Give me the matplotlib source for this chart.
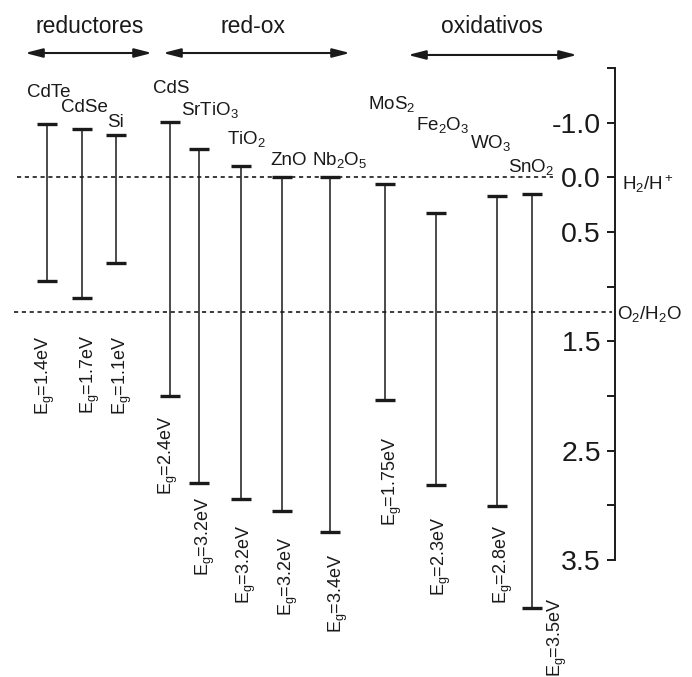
import matplotlib
matplotlib.use('Agg')
import matplotlib.pyplot as plt

plt.rcParams['font.family'] = ['Liberation Sans', 'DejaVu Sans']
plt.rcParams['mathtext.default'] = 'regular'

# --- band edges (eV vs NHE) ---
materials = ['CdTe', 'CdSe', 'Si', 'CdS', 'SrTiO$_3$', 'TiO$_2$', 'ZnO', 'Nb$_2$O$_5$',
             'MoS$_2$', 'Fe$_2$O$_3$', 'WO$_3$', 'SnO$_2$']
cb_edge = [-0.49, -0.44, -0.39, -0.51, -0.26, -0.10, 0.00, 0.00, 0.06, 0.33, 0.17, 0.15]
vb_edge = [0.95, 1.10, 0.78, 2.00, 2.80, 2.94, 3.05, 3.24, 2.04, 2.81, 3.01, 3.94]
gap_values = ['1.4', '1.7', '1.1', '2.4', '3.2', '3.2', '3.2', '3.4', '1.75', '2.3', '2.8', '3.5']
groups = ['reductores', 'red-ox', 'oxidativos']
redox_levels = [0.0, 1.23]
redox_names = ['H$_2$/H$^+$', 'O$_2$/H$_2$O']
ticks = [-1.0, -0.5, 0.0, 0.5, 1.0, 1.5, 2.0, 2.5, 3.0, 3.5]
tick_labels = ['', '-1.0', '0.0', '0.5', '', '1.5', '', '2.5', '', '3.5']

# --- layout (x in figure pixels) ---
x_bar = [47, 82, 116, 170, 199, 241, 282, 330, 385, 436, 497, 532]
name_x = [27, 61, 107, 153, 181, 227, 270, 312, 368, 416, 470, 508]
name_y = [-0.74, -0.60, -0.46, -0.77, -0.57, -0.31, -0.11, -0.11, -0.63, -0.43, -0.27, -0.05]
gap_x = [45, 90, 122, 168, 205, 246, 288, 338, 392, 441, 503, 557]
gap_y = [1.45, 1.44, 1.45, 2.18, 2.92, 3.18, 3.29, 3.44, 2.37, 3.11, 3.18, 3.85]
group_x = [90, 253, 492]
arrow_span = [(25, 152), (163, 350), (408, 577)]
line_span = [(17, 553), (14, 612)]
axis_x = 615
cap = 10
ink = '#1a1a1a'

fig = plt.figure(figsize=(6.92, 6.77), dpi=100)
ax = fig.add_axes([0, 0, 1, 1])
ax.set_xlim(0, 692)
ax.set_ylim(4.571, -1.623)

# bars with caps
ax.vlines(x_bar, cb_edge, vb_edge, color=ink, lw=1.1)
ax.hlines(cb_edge, [x - cap for x in x_bar], [x + cap for x in x_bar], color=ink, lw=2.4)
ax.hlines(vb_edge, [x - cap for x in x_bar], [x + cap for x in x_bar], color=ink, lw=2.4)

for i, name in enumerate(materials):
    ax.text(name_x[i], name_y[i], name, fontsize=13.5, color=ink, ha='left', va='baseline')
    ax.text(gap_x[i], gap_y[i], 'E$_g$=' + gap_values[i] + 'eV', fontsize=13, color=ink,
            rotation=90, ha='center', va='top')

# redox potentials
for lvl, nm, (x0, x1) in zip(redox_levels, redox_names, line_span):
    ax.plot([x0, x1], [lvl, lvl], color=ink, lw=1.2, linestyle=(0, (2.5, 2.2)))
ax.text(622, 0.117, redox_names[0], fontsize=13.5, color=ink, va='baseline')
ax.text(617, 1.30, redox_names[1], fontsize=13.5, color=ink, va='baseline')

# group headers
for g, gx, (a0, a1), ay in zip(groups, group_x, arrow_span, [-1.138, -1.138, -1.12]):
    ax.text(gx, -1.325, g, fontsize=16.5, color=ink, ha='center', va='baseline')
    ax.annotate('', xy=(a1, ay), xytext=(a0, ay),
                arrowprops=dict(arrowstyle='<|-|>,head_length=1.05,head_width=0.27',
                                lw=1.5, color=ink, shrinkA=0, shrinkB=0, mutation_scale=10))

# potential axis
for s in ['top', 'right', 'bottom']:
    ax.spines[s].set_visible(False)
ax.spines['left'].set_position(('data', axis_x))
ax.spines['left'].set_bounds(-1.0, 3.5)
ax.spines['left'].set_linewidth(1.4)
ax.spines['left'].set_color(ink)
ax.set_xticks([])
ax.set_yticks(ticks, tick_labels)
ax.tick_params(axis='y', direction='out', length=6, width=1.4, labelsize=20.5, pad=4,
               colors=ink)
ax.patch.set_visible(False)

fig.savefig('out.png', dpi=100)
